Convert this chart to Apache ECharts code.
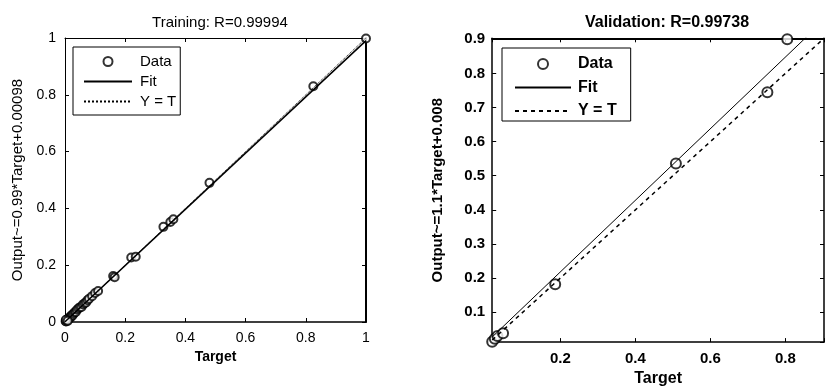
<!DOCTYPE html>
<html><head><meta charset="utf-8">
<script src="https://cdn.jsdelivr.net/npm/echarts@6/dist/echarts.min.js"></script>
<style>html,body{margin:0;padding:0;background:#fff}#c{width:827px;height:392px}</style>
</head><body><div id="c"></div>
<script>
// ---- Training (left panel) ----
const trainTarget = [0.002,0.004,0.006,0.008,0.010,0.012,0.014,0.016,0.018,0.020,0.022,0.025,0.028,0.003,0.009,0.032,0.036,0.040,0.045,0.050,0.055,0.060,0.065,0.070,0.075,0.080,0.090,0.100,0.110,0.160,0.165,0.220,0.235,0.327,0.350,0.360,0.480,0.825,1.000];
const trainOutput = [0.003,0.002,0.007,0.006,0.011,0.010,0.015,0.014,0.019,0.018,0.024,0.023,0.029,0.008,0.004,0.034,0.035,0.043,0.048,0.052,0.053,0.062,0.066,0.069,0.077,0.082,0.091,0.102,0.109,0.162,0.158,0.227,0.230,0.335,0.352,0.362,0.490,0.830,0.998];
const trainFitT = [0, 1];
const trainFitY = [0.001, 0.991];
const trainIdT = [0, 1];
const trainIdY = [0, 1];
const trainTickLabels = ['0','0.2','0.4','0.6','0.8','1'];

// ---- Validation (right panel) ----
const validTarget = [0.018,0.025,0.032,0.047,0.186,0.508,0.752,0.805];
const validOutput = [0.013,0.022,0.030,0.038,0.182,0.536,0.745,0.900];
const validFitT = [0.018, 0.903];
const validFitY = [0.027, 0.956];
const validIdT = [0.018, 0.903];
const validIdY = [0.018, 0.903];
const validXTickLabels = ['0.2','0.4','0.6','0.8'];
const validYTickLabels = ['0.1','0.2','0.3','0.4','0.5','0.6','0.7','0.8','0.9'];

const zip = (a, b) => a.map((v, i) => [v, b[i]]);
const fmt = (list) => (v) => {
  const s = String(Math.round(v * 1000) / 1000);
  return list.indexOf(s) >= 0 ? s : '';
};

const FONT = 'Liberation Sans, Arial, sans-serif';
const tick = {show: true, inside: true, length: 4, lineStyle: {color: '#000', width: 1}};
const noSym = {opacity: 0};

const chart = echarts.init(document.getElementById('c'));
chart.setOption({
  animation: false,
  backgroundColor: '#fff',
  textStyle: {fontFamily: FONT, color: '#000'},
  title: [
    {text: 'Training: R=0.99994', left: 215, top: 10, textAlign: 'center',
     textStyle: {fontFamily: FONT, fontSize: 15, fontWeight: 'normal', color: '#000'}},
    {text: 'Validation: R=0.99738', left: 662, top: 10, textAlign: 'center',
     textStyle: {fontFamily: FONT, fontSize: 16, fontWeight: 'bold', color: '#000'}}
  ],
  legend: [
    {data: [{name: 'Data'}, {name: 'Fit', itemStyle: noSym}, {name: 'Y = T', itemStyle: noSym}],
     orient: 'vertical', left: 73, top: 47,
     padding: [7, 4, 6, 10], itemWidth: 48, itemHeight: 9, itemGap: 5,
     borderColor: '#000', borderWidth: 1, backgroundColor: '#fff',
     textStyle: {fontFamily: FONT, fontSize: 15, color: '#000', padding: [0, 0, 0, 3]}},
    {data: [{name: 'V-Data'}, {name: 'V-Fit', itemStyle: noSym}, {name: 'V-Y = T', itemStyle: noSym}],
     orient: 'vertical', left: 502, top: 48,
     padding: [8, 14, 2, 12], itemWidth: 56, itemHeight: 10, itemGap: 7.5,
     formatter: (n) => n.replace('V-', ''),
     borderColor: '#000', borderWidth: 1, backgroundColor: '#fff',
     textStyle: {fontFamily: FONT, fontSize: 16, fontWeight: 'bold', color: '#000', padding: [0, 0, 0, 2]}}
  ],
  grid: [
    {left: 65, top: 38, width: 301, height: 284},
    {left: 492.2, top: 38.3, width: 339.2, height: 309.6}
  ],
  xAxis: [
    {gridIndex: 0, type: 'value', min: 0, max: 1, interval: 0.2, position: 'bottom',
     name: 'Target', nameLocation: 'middle', nameGap: 26,
     nameTextStyle: {fontFamily: FONT, fontSize: 14, fontWeight: 'bold', color: '#000'},
     axisLine: {show: true, onZero: false, lineStyle: {color: '#000', width: 1.5}},
     axisTick: tick, splitLine: {show: false},
     axisLabel: {margin: 9, fontSize: 14, color: '#000', fontFamily: FONT, formatter: fmt(trainTickLabels)}},
    {gridIndex: 0, type: 'value', min: 0, max: 1, interval: 0.2, position: 'top',
     axisLine: {show: true, onZero: false, lineStyle: {color: '#000', width: 1}},
     axisTick: tick, splitLine: {show: false}, axisLabel: {show: false}},
    {gridIndex: 1, type: 'value', min: 0.018, max: 0.903, splitNumber: 5, minInterval: 0.2, maxInterval: 0.2, position: 'bottom',
     name: 'Target', nameLocation: 'middle', nameGap: 19,
     nameTextStyle: {fontFamily: FONT, fontSize: 16, fontWeight: 'bold', color: '#000'},
     axisLine: {show: true, onZero: false, lineStyle: {color: '#000', width: 1.5}},
     axisTick: tick, splitLine: {show: false},
     axisLabel: {margin: 9, fontSize: 15, fontWeight: 'bold', color: '#000', fontFamily: FONT, formatter: fmt(validXTickLabels)}},
    {gridIndex: 1, type: 'value', min: 0.018, max: 0.903, splitNumber: 5, minInterval: 0.2, maxInterval: 0.2, position: 'top',
     axisLine: {show: true, onZero: false, lineStyle: {color: '#000', width: 2}},
     axisTick: tick, splitLine: {show: false}, axisLabel: {show: false}}
  ],
  yAxis: [
    {gridIndex: 0, type: 'value', min: 0, max: 1, interval: 0.2, position: 'left',
     name: 'Output~=0.99*Target+0.00098', nameLocation: 'middle', nameGap: 40,
     nameTextStyle: {fontFamily: FONT, fontSize: 15, color: '#000'},
     axisLine: {show: true, onZero: false, lineStyle: {color: '#000', width: 1}},
     axisTick: tick, splitLine: {show: false},
     axisLabel: {margin: 9, fontSize: 14, color: '#000', fontFamily: FONT, formatter: fmt(trainTickLabels)}},
    {gridIndex: 0, type: 'value', min: 0, max: 1, interval: 0.2, position: 'right',
     axisLine: {show: true, onZero: false, lineStyle: {color: '#000', width: 2}},
     axisTick: tick, splitLine: {show: false}, axisLabel: {show: false}},
    {gridIndex: 1, type: 'value', min: 0.012, max: 0.903, splitNumber: 9, minInterval: 0.1, maxInterval: 0.1, position: 'left',
     name: 'Output~=1.1*Target+0.008', nameLocation: 'middle', nameGap: 47,
     nameTextStyle: {fontFamily: FONT, fontSize: 15, fontWeight: 'bold', color: '#000'},
     axisLine: {show: true, onZero: false, lineStyle: {color: '#000', width: 1.5}},
     axisTick: tick, splitLine: {show: false},
     axisLabel: {margin: 7, fontSize: 15, fontWeight: 'bold', color: '#000', fontFamily: FONT, formatter: fmt(validYTickLabels)}},
    {gridIndex: 1, type: 'value', min: 0.012, max: 0.903, splitNumber: 9, minInterval: 0.1, maxInterval: 0.1, position: 'right',
     axisLine: {show: true, onZero: false, lineStyle: {color: '#000', width: 1.5}},
     axisTick: tick, splitLine: {show: false}, axisLabel: {show: false}}
  ],
  series: [
    {name: 'Data', type: 'scatter', xAxisIndex: 0, yAxisIndex: 0, z: 2,
     data: zip(trainTarget, trainOutput), symbol: 'emptyCircle', symbolSize: 8,
     itemStyle: {color: '#000', borderColor: '#000', borderWidth: 1}},
    {name: 'Fit', type: 'line', xAxisIndex: 0, yAxisIndex: 0, z: 3, showSymbol: false,
     data: zip(trainFitT, trainFitY), symbol: 'none', lineStyle: {color: '#000', width: 1.6}, itemStyle: {color: '#000'}},
    {name: 'Y = T', type: 'line', xAxisIndex: 0, yAxisIndex: 0, z: 3, showSymbol: false,
     data: zip(trainIdT, trainIdY), symbol: 'none', lineStyle: {color: '#000', width: 1, type: 'dotted'}, itemStyle: {color: '#000'}},
    {name: 'V-Data', type: 'scatter', xAxisIndex: 2, yAxisIndex: 2, z: 2,
     data: zip(validTarget, validOutput), symbol: 'emptyCircle', symbolSize: 10,
     itemStyle: {color: '#000', borderColor: '#000', borderWidth: 2}},
    {name: 'V-Fit', type: 'line', xAxisIndex: 2, yAxisIndex: 2, z: 3, clip: true, showSymbol: false,
     data: zip(validFitT, validFitY), symbol: 'none', lineStyle: {color: '#000', width: 1}, itemStyle: {color: '#000'}},
    {name: 'V-Y = T', type: 'line', xAxisIndex: 2, yAxisIndex: 2, z: 3, showSymbol: false,
     data: zip(validIdT, validIdY), symbol: 'none', lineStyle: {color: '#000', width: 1.5, type: [4, 4]}, itemStyle: {color: '#000'}}
  ]
});
</script>
</body></html>
